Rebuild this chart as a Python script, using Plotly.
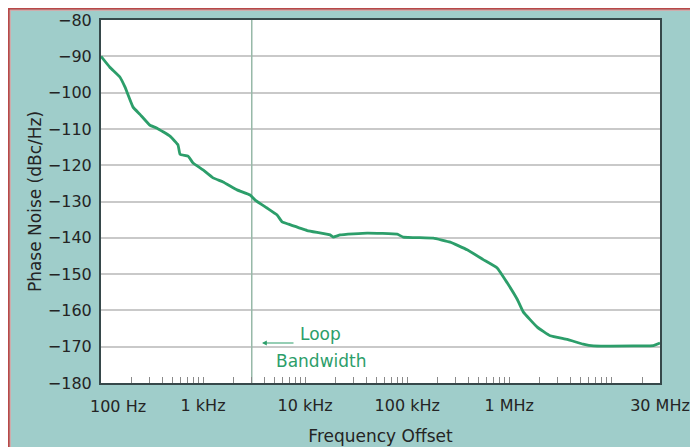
import plotly.graph_objects as go

# ---- data ----
freq_hz = [100, 122, 153, 172, 206, 241, 302, 354, 474, 568, 595, 713, 798, 1000,
           1253, 1570, 2154, 2890, 3236, 4240, 5310, 5950, 6810, 10470, 17580, 18830,
           22030, 40550, 79800, 91400, 180000, 264000, 387000, 556000, 762000, 955000,
           1.2e6, 1.37e6, 1.88e6, 2.52e6, 3.7e6, 5.3e6, 6.7e6, 16.4e6, 25.8e6, 30e6]
phase_noise_dbc = [-90, -93, -95.7, -98.5, -104, -106, -109, -109.8, -112, -114.4, -117,
                   -117.5, -119.4, -121.3, -123.5, -124.6, -126.8, -128.2, -129.6, -131.8,
                   -133.7, -135.6, -136.2, -138, -139.2, -139.8, -139.2, -138.7, -139,
                   -139.8, -140.1, -141.2, -143.3, -146, -148.3, -152.4, -157, -160.4,
                   -164.6, -167, -168, -169.3, -169.8, -169.8, -169.7, -169]
loop_bw_hz = 3000
x_label_vals = [100, 1000, 10000, 100000, 1000000, 30000000]
x_label_text = ["100 Hz", "1 kHz", "10 kHz", "100 kHz", "1 MHz", "30 MHz"]
y_tick_vals = [-180, -170, -160, -150, -140, -130, -120, -110, -100, -90, -80]

# minor ticks 1..9 per decade
minor_vals = []
for dec in [100, 1000, 10000, 100000, 1000000, 10000000]:
    for m in range(1, 10):
        v = dec * m
        if v <= 30000000:
            minor_vals.append(v)
tickvals = sorted(set(minor_vals + x_label_vals))
ticktext = []
for v in tickvals:
    if v in x_label_vals and v != 100:
        ticktext.append(x_label_text[x_label_vals.index(v)])
    else:
        ticktext.append("")

# the page body has an 8 px margin; figure coordinates are screen minus OFF
OFF = 8
W, H = 698, 447
L, R, T, B = 93, 46, 12, 72
PW, PH = W - L - R, H - T - B


def px(x):  # screen pixel x -> paper
    return (x - OFF - L) / PW


def py(y):  # screen pixel y -> paper
    return (H - B - (y - OFF)) / PH


TEAL = "#9fcdca"
GREEN = "#2c9e6a"
TXT = "#242424"
FONT = "DejaVu Sans"

fig = go.Figure()
fig.add_trace(go.Scatter(x=[loop_bw_hz, loop_bw_hz], y=[-180, -80], mode="lines",
                         line=dict(color="#97b9a8", width=1.5), hoverinfo="skip",
                         showlegend=False))
fig.add_trace(go.Scatter(x=freq_hz, y=phase_noise_dbc, mode="lines",
                         line=dict(color=GREEN, width=2.8, shape="spline", smoothing=0.3),
                         showlegend=False))

fig.update_layout(
    width=W, height=H,
    margin=dict(l=L, r=R, t=T, b=B, autoexpand=False),
    paper_bgcolor=TEAL, plot_bgcolor="white",
    font=dict(family=FONT, color=TXT),
    showlegend=False,
)
fig.update_xaxes(
    type="log", range=[2, 7.4771], tickmode="array", tickvals=tickvals, ticktext=ticktext,
    ticks="inside", ticklen=6, tickcolor="#8a8a8a", tickwidth=1,
    showgrid=False, zeroline=False, automargin=False,
    showline=True, linecolor="#36484a", linewidth=2, mirror=True,
    tickfont=dict(size=16, color=TXT), ticklabelstandoff=7,
    title=dict(text="Frequency Offset", font=dict(size=17, color=TXT), standoff=16),
)
fig.update_yaxes(
    range=[-180, -80], tickmode="array", tickvals=y_tick_vals,
    ticks="", showgrid=True, gridcolor="#c9c9c9", gridwidth=2, zeroline=False,
    automargin=False,
    showline=True, linecolor="#36484a", linewidth=2, mirror=True,
    tickfont=dict(size=16, color=TXT), ticklabelstandoff=4,
    title=dict(text="Phase Noise (dBc/Hz)", font=dict(size=17, color=TXT), standoff=2),
)

ann = [
    dict(x=px(118), y=py(406), text="100 Hz", font=dict(size=16, color=TXT)),
    dict(x=px(320), y=py(334), text="Loop", font=dict(size=17, color=GREEN)),
    dict(x=px(321), y=py(361), text="Bandwidth", font=dict(size=17, color=GREEN)),
]
for a in ann:
    fig.add_annotation(xref="paper", yref="paper", showarrow=False,
                       xanchor="center", yanchor="middle", **a)
fig.add_annotation(xref="paper", yref="paper", x=px(262), y=py(343), text="",
                   showarrow=True, ax=33, ay=0, arrowhead=2, arrowsize=0.8,
                   arrowwidth=1.2, arrowcolor=GREEN)

# red frame lines at the top and left edges of the figure
fig.add_shape(type="line", xref="paper", yref="paper", x0=px(8), x1=px(W + 10),
              y0=py(8.8), y1=py(8.8), line=dict(color="#b94848", width=2))
fig.add_shape(type="line", xref="paper", yref="paper", x0=px(10), x1=px(W + 10),
              y0=py(10.3), y1=py(10.3), line=dict(color="#dba4a4", width=1))
fig.add_shape(type="line", xref="paper", yref="paper", x0=px(8.8), x1=px(8.8),
              y0=py(8), y1=py(H + 10), line=dict(color="#b94848", width=2))
fig.add_shape(type="line", xref="paper", yref="paper", x0=px(10.3), x1=px(10.3),
              y0=py(10), y1=py(H + 10), line=dict(color="#dba4a4", width=1))

fig.write_html("out.html")
